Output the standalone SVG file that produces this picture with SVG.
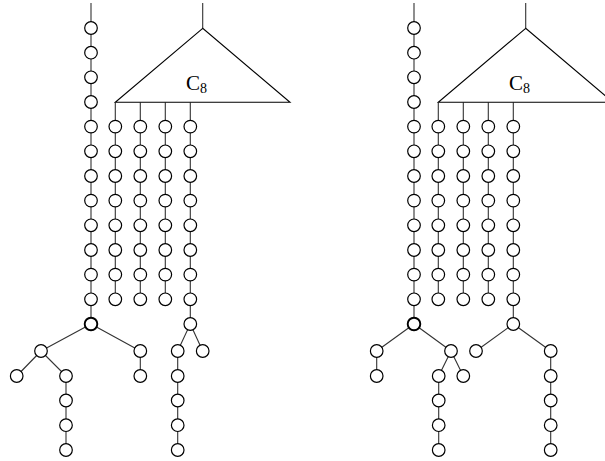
<svg xmlns="http://www.w3.org/2000/svg" width="605" height="461" viewBox="0 0 605 461">
<style>
.e{stroke:#333;stroke-width:1.1;fill:none}
.n{fill:#fff;stroke:#000;stroke-width:1.2}
.b{fill:#fff;stroke:#000;stroke-width:1.9}
.t{fill:#fff;stroke:#000;stroke-width:1.1}
.l{font-family:"Liberation Serif","Times New Roman",serif;fill:#000}
</style>
<defs>
<circle id="c" r="6.3" class="n"/>
<circle id="cb" r="6.3" class="b"/>
</defs>
<g id="connectors">
<path class="e" d="M91,3V324M91,324L41,351M91,324L140.3,351M41,351L16.7,376M41,351L66,376V450M140.3,351V376"/>
<path class="e" d="M202.7,3V28.3M115.3,102.3V299M140.3,102.3V299M165.3,102.3V299M190.3,102.3V324L177.7,351M190.3,324L202.7,351M177.7,351V450"/>
<path class="e" d="M414,3V324M414,324L376.7,351M414,324L451,351M376.7,351V376M451,351L438.7,376M451,351L463.3,376M438.7,376V450"/>
<path class="e" d="M525.7,3V28.3M438.3,102.3V299M463.3,102.3V299M488.3,102.3V299M513.3,102.3V324L476,351M513.3,324L550.7,351M550.7,351V450"/>
</g>
<g id="triangle-left">
<polygon class="t" points="202.7,28.3 115.3,102.3 290,102.3"/>
<text class="l" x="186" y="89.5" font-size="21">C<tspan font-size="14" dy="3">8</tspan></text>
</g>
<g id="triangle-right">
<polygon class="t" points="525.7,28.3 438.3,102.3 613,102.3"/>
<text class="l" x="509" y="89.5" font-size="21">C<tspan font-size="14" dy="3">8</tspan></text>
</g>
<g id="nodes-left-main">
<use href="#c" x="91" y="28"/><use href="#c" x="91" y="52.7"/><use href="#c" x="91" y="77.3"/><use href="#c" x="91" y="102"/><use href="#c" x="91" y="126.6"/><use href="#c" x="91" y="151.3"/><use href="#c" x="91" y="176"/><use href="#c" x="91" y="200.6"/><use href="#c" x="91" y="225.3"/><use href="#c" x="91" y="250"/><use href="#c" x="91" y="274.6"/><use href="#c" x="91" y="299.3"/>
<use href="#cb" x="91" y="324"/>
<use href="#c" x="41" y="351"/><use href="#c" x="140.3" y="351"/>
<use href="#c" x="16.7" y="376"/><use href="#c" x="66" y="376"/><use href="#c" x="140.3" y="376"/>
<use href="#c" x="66" y="400.5"/><use href="#c" x="66" y="425.2"/><use href="#c" x="66" y="450"/>
</g>
<g id="nodes-left-sub">
<use href="#c" x="115.3" y="126.6"/><use href="#c" x="115.3" y="151.3"/><use href="#c" x="115.3" y="176"/><use href="#c" x="115.3" y="200.6"/><use href="#c" x="115.3" y="225.3"/><use href="#c" x="115.3" y="250"/><use href="#c" x="115.3" y="274.6"/><use href="#c" x="115.3" y="299.3"/>
<use href="#c" x="140.3" y="126.6"/><use href="#c" x="140.3" y="151.3"/><use href="#c" x="140.3" y="176"/><use href="#c" x="140.3" y="200.6"/><use href="#c" x="140.3" y="225.3"/><use href="#c" x="140.3" y="250"/><use href="#c" x="140.3" y="274.6"/><use href="#c" x="140.3" y="299.3"/>
<use href="#c" x="165.3" y="126.6"/><use href="#c" x="165.3" y="151.3"/><use href="#c" x="165.3" y="176"/><use href="#c" x="165.3" y="200.6"/><use href="#c" x="165.3" y="225.3"/><use href="#c" x="165.3" y="250"/><use href="#c" x="165.3" y="274.6"/><use href="#c" x="165.3" y="299.3"/>
<use href="#c" x="190.3" y="126.6"/><use href="#c" x="190.3" y="151.3"/><use href="#c" x="190.3" y="176"/><use href="#c" x="190.3" y="200.6"/><use href="#c" x="190.3" y="225.3"/><use href="#c" x="190.3" y="250"/><use href="#c" x="190.3" y="274.6"/><use href="#c" x="190.3" y="299.3"/>
<use href="#c" x="190.3" y="324"/>
<use href="#c" x="177.7" y="351"/><use href="#c" x="202.7" y="351"/>
<use href="#c" x="177.7" y="376"/><use href="#c" x="177.7" y="400.5"/><use href="#c" x="177.7" y="425.2"/><use href="#c" x="177.7" y="450"/>
</g>
<g id="nodes-right-main">
<use href="#c" x="414" y="28"/><use href="#c" x="414" y="52.7"/><use href="#c" x="414" y="77.3"/><use href="#c" x="414" y="102"/><use href="#c" x="414" y="126.6"/><use href="#c" x="414" y="151.3"/><use href="#c" x="414" y="176"/><use href="#c" x="414" y="200.6"/><use href="#c" x="414" y="225.3"/><use href="#c" x="414" y="250"/><use href="#c" x="414" y="274.6"/><use href="#c" x="414" y="299.3"/>
<use href="#cb" x="414" y="324"/>
<use href="#c" x="376.7" y="351"/><use href="#c" x="451" y="351"/>
<use href="#c" x="376.7" y="376"/><use href="#c" x="438.7" y="376"/><use href="#c" x="463.3" y="376"/>
<use href="#c" x="438.7" y="400.5"/><use href="#c" x="438.7" y="425.2"/><use href="#c" x="438.7" y="450"/>
</g>
<g id="nodes-right-sub">
<use href="#c" x="438.3" y="126.6"/><use href="#c" x="438.3" y="151.3"/><use href="#c" x="438.3" y="176"/><use href="#c" x="438.3" y="200.6"/><use href="#c" x="438.3" y="225.3"/><use href="#c" x="438.3" y="250"/><use href="#c" x="438.3" y="274.6"/><use href="#c" x="438.3" y="299.3"/>
<use href="#c" x="463.3" y="126.6"/><use href="#c" x="463.3" y="151.3"/><use href="#c" x="463.3" y="176"/><use href="#c" x="463.3" y="200.6"/><use href="#c" x="463.3" y="225.3"/><use href="#c" x="463.3" y="250"/><use href="#c" x="463.3" y="274.6"/><use href="#c" x="463.3" y="299.3"/>
<use href="#c" x="488.3" y="126.6"/><use href="#c" x="488.3" y="151.3"/><use href="#c" x="488.3" y="176"/><use href="#c" x="488.3" y="200.6"/><use href="#c" x="488.3" y="225.3"/><use href="#c" x="488.3" y="250"/><use href="#c" x="488.3" y="274.6"/><use href="#c" x="488.3" y="299.3"/>
<use href="#c" x="513.3" y="126.6"/><use href="#c" x="513.3" y="151.3"/><use href="#c" x="513.3" y="176"/><use href="#c" x="513.3" y="200.6"/><use href="#c" x="513.3" y="225.3"/><use href="#c" x="513.3" y="250"/><use href="#c" x="513.3" y="274.6"/><use href="#c" x="513.3" y="299.3"/>
<use href="#c" x="513.3" y="324"/>
<use href="#c" x="476" y="351"/><use href="#c" x="550.7" y="351"/>
<use href="#c" x="550.7" y="376"/><use href="#c" x="550.7" y="400.5"/><use href="#c" x="550.7" y="425.2"/><use href="#c" x="550.7" y="450"/>
</g>
</svg>
